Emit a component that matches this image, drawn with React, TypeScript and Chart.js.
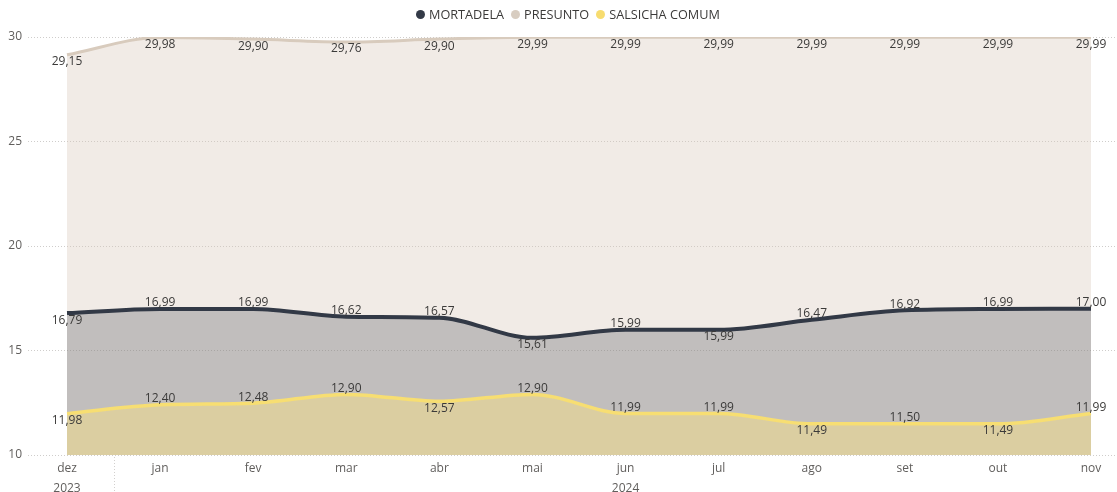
import React, { useEffect, useRef } from "react";
import { Chart, registerables } from "chart.js";

Chart.register(...registerables);

const months = ["dez", "jan", "fev", "mar", "abr", "mai", "jun", "jul", "ago", "set", "out", "nov"];
const yearLabels = ["2023", "", "", "", "", "", "2024", "", "", "", "", ""];
const mortadela = [16.79, 16.99, 16.99, 16.62, 16.57, 15.61, 15.99, 15.99, 16.47, 16.92, 16.99, 17.0];
const presunto = [29.15, 29.98, 29.9, 29.76, 29.9, 29.99, 29.99, 29.99, 29.99, 29.99, 29.99, 29.99];
const salsicha = [11.98, 12.4, 12.48, 12.9, 12.57, 12.9, 11.99, 11.99, 11.49, 11.5, 11.49, 11.99];
const yTicks = [10, 15, 20, 25, 30];

const FONT = "'Open Sans', 'Noto Sans', sans-serif";

const fmt = (v: number) => v.toFixed(2).replace(".", ",");

const dataLabelPlugin = {
  id: "dataLabels",
  afterDatasetsDraw(chart: any) {
    const ctx = chart.ctx;
    const area = chart.chartArea;
    ctx.save();
    ctx.font = `12px ${FONT}`;
    ctx.fillStyle = "#3b3a39";
    ctx.textAlign = "center";
    ctx.textBaseline = "middle";
    chart.data.datasets.forEach((ds: any, di: number) => {
      const meta = chart.getDatasetMeta(di);
      const vals = ds.data.map((d: any) => d.y);
      meta.data.forEach((pt: any, i: number) => {
        const v = vals[i];
        const prevOk = i === 0 ? true : v <= vals[i - 1];
        const nextOk = i === vals.length - 1 ? false : v < vals[i + 1];
        let below = prevOk && nextOk;
        if (!below && pt.y - 7 - 6 < area.top) below = true;
        const y = below ? pt.y + 7 : pt.y - 6;
        ctx.fillText(fmt(v), pt.x, y);
      });
    });
    ctx.restore();
  },
};

const separatorPlugin = {
  id: "yearSeparator",
  afterDraw(chart: any) {
    const ctx = chart.ctx;
    const xs = chart.scales.x;
    const x = Math.round(xs.getPixelForValue(0.5)) + 0.5;
    ctx.save();
    ctx.strokeStyle = "#d2d0ce";
    ctx.setLineDash([1, 2]);
    ctx.lineWidth = 1;
    ctx.beginPath();
    ctx.moveTo(x, chart.chartArea.bottom + 2);
    ctx.lineTo(x, chart.height);
    ctx.stroke();
    ctx.restore();
  },
};

const legendItems = [
  { label: "MORTADELA", color: "#333a47" },
  { label: "PRESUNTO", color: "#d8cdc1" },
  { label: "SALSICHA COMUM", color: "#f7dc6f" },
];

export default function App() {
  const ref = useRef<HTMLCanvasElement | null>(null);

  useEffect(() => {
    if (!ref.current) return;
    const toPts = (arr: number[]) => arr.map((v, i) => ({ x: i, y: v }));
    const chart = new Chart(ref.current, {
      type: "line",
      data: {
        datasets: [
          {
            label: "MORTADELA",
            data: toPts(mortadela),
            borderColor: "#323946",
            backgroundColor: "rgba(47,54,66,0.25)",
            borderWidth: 4,
            fill: "start",
            pointRadius: 0,
            cubicInterpolationMode: "monotone",
            order: 1,
          },
          {
            label: "PRESUNTO",
            data: toPts(presunto),
            borderColor: "#d8cbbd",
            backgroundColor: "rgba(216,202,187,0.37)",
            borderWidth: 3,
            fill: "start",
            pointRadius: 0,
            cubicInterpolationMode: "monotone",
            order: 2,
          },
          {
            label: "SALSICHA COMUM",
            data: toPts(salsicha),
            borderColor: "#f7de72",
            backgroundColor: "rgba(237,216,142,0.6)",
            borderWidth: 3.5,
            fill: "start",
            pointRadius: 0,
            cubicInterpolationMode: "monotone",
            order: 0,
          },
        ],
      } as any,
      options: {
        responsive: false,
        animation: false,
        devicePixelRatio: 1,
        layout: { padding: { top: 37, left: 0, right: 0, bottom: 0 } },
        plugins: {
          legend: { display: false },
          tooltip: { enabled: false },
        },
        scales: {
          x: {
            type: "linear",
            min: -0.419,
            max: 11.279,
            afterBuildTicks: (s: any) => {
              s.ticks = months.map((_, i) => ({ value: i }));
            },
            afterFit: (s: any) => {
              s.height = 37;
            },
            grid: { display: false, drawTicks: false },
            border: { display: false },
            ticks: {
              autoSkip: false,
              maxRotation: 0,
              padding: 4,
              color: "#605e5c",
              font: { family: FONT, size: 12, lineHeight: 1.667 },
              callback: (v: any) => {
                const i = Math.round(Number(v));
                return yearLabels[i] ? [months[i], yearLabels[i]] : months[i];
              },
            },
          },
          y: {
            min: 10,
            max: 30,
            afterBuildTicks: (s: any) => {
              s.ticks = yTicks.map((v) => ({ value: v }));
            },
            afterFit: (s: any) => {
              s.width = 28;
            },
            grid: {
              color: "#cfcdcb",
              lineWidth: 1,
              drawTicks: false,
            },
            border: { display: false, dash: [1, 2] },
            ticks: {
              padding: 6,
              color: "#605e5c",
              font: { family: FONT, size: 12 },
            },
          },
        },
      } as any,
      plugins: [dataLabelPlugin, separatorPlugin],
    });
    return () => chart.destroy();
  }, []);

  return (
    <div style={{ position: "absolute", left: 0, top: 0, width: 1117, height: 492, background: "#fff" }}>
      <canvas ref={ref} width={1117} height={492} style={{ display: "block" }} />
      <div
        style={{
          position: "absolute",
          left: 416,
          top: 5,
          display: "flex",
          alignItems: "center",
          fontFamily: FONT,
          fontSize: 12.7,
          color: "#3b3a39",
          lineHeight: "18px",
          whiteSpace: "nowrap",
        }}
      >
        {legendItems.map((it) => (
          <div key={it.label} style={{ display: "flex", alignItems: "center", marginRight: 7 }}>
            <span
              style={{
                display: "inline-block",
                width: 9,
                height: 9,
                borderRadius: "50%",
                background: it.color,
                marginRight: 4,
              }}
            />
            <span>{it.label}</span>
          </div>
        ))}
      </div>
    </div>
  );
}
